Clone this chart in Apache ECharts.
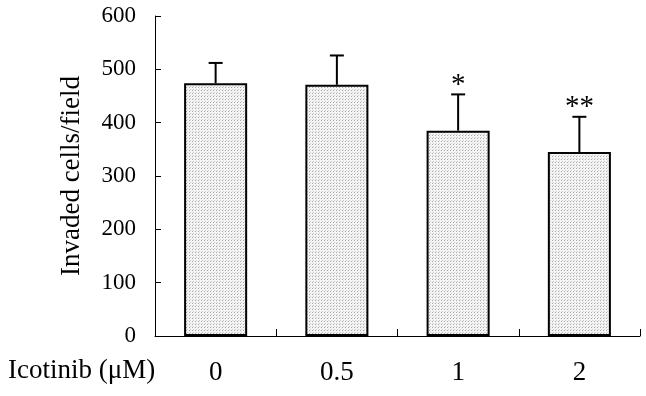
<!DOCTYPE html>
<html>
<head>
<meta charset="utf-8">
<script src="https://cdn.jsdelivr.net/npm/echarts@6/dist/echarts.min.js"></script>
<style>
  html, body { margin: 0; padding: 0; background: #fff; }
  #chart { width: 646px; height: 396px; }
</style>
</head>
<body>
<div id="chart"></div>
<script>
const categories = ['0', '0.5', '1', '2'];
const means = [474, 471, 385, 345];
const errors = [38, 55, 68, 66];
const marks = ['', '', '*', '**'];
const yTicks = [0, 100, 200, 300, 400, 500, 600];

const chartDom = document.getElementById('chart');
const myChart = echarts.init(chartDom);

// dotted fill for the bars
const dots = document.createElement('canvas');
dots.width = 3;
dots.height = 3;
const dctx = dots.getContext('2d');
dctx.fillStyle = '#f4f4f4';
dctx.fillRect(0, 0, 3, 3);
dctx.fillStyle = '#a8a8a8';
dctx.fillRect(0, 0, 1, 1);
dctx.fillStyle = '#d0d0d0';
dctx.fillRect(1, 2, 1, 1);

const font = '"Liberation Serif", "DejaVu Serif", serif';

const option = {
    animation: false,
    grid: { left: 155, right: 6, top: 16, bottom: 60 },
    xAxis: {
        type: 'category',
        data: categories,
        axisLine: { lineStyle: { color: '#000', width: 1 } },
        axisTick: { show: true, inside: true, length: 7, lineStyle: { color: '#000' } },
        axisLabel: { color: '#000', fontFamily: font, fontSize: 27, margin: 23 },
        z: 5
    },
    yAxis: {
        type: 'value',
        min: yTicks[0],
        max: yTicks[yTicks.length - 1],
        interval: 100,
        name: 'Invaded cells/field',
        nameLocation: 'middle',
        nameGap: 70,
        nameTextStyle: { color: '#000', fontFamily: font, fontSize: 27 },
        axisLine: { show: true, lineStyle: { color: '#000', width: 1 } },
        axisTick: { show: true, inside: true, length: 6, lineStyle: { color: '#000' } },
        splitLine: { show: false },
        axisLabel: { color: '#000', fontFamily: font, fontSize: 23, margin: 19 }
    },
    graphic: [{
        type: 'text',
        left: 8,
        top: 357,
        style: { text: 'Icotinib (\u03bcM)', fill: '#000', font: '27px ' + font }
    }],
    series: [
        {
            type: 'bar',
            data: means,
            barWidth: '52%',
            itemStyle: {
                color: { image: dots, repeat: 'repeat' },
                borderColor: '#000',
                borderWidth: 2
            },
            z: 2
        },
        {
            type: 'custom',
            data: means.map((m, i) => [i, m, m + errors[i]]),
            renderItem: function (params, api) {
                const lo = api.coord([api.value(0), api.value(1)]);
                const hi = api.coord([api.value(0), api.value(2)]);
                const cap = 7;
                const children = [
                    { type: 'line', shape: { x1: lo[0], y1: lo[1], x2: hi[0], y2: hi[1] },
                      style: { stroke: '#000', lineWidth: 2 } },
                    { type: 'line', shape: { x1: hi[0] - cap, y1: hi[1], x2: hi[0] + cap, y2: hi[1] },
                      style: { stroke: '#000', lineWidth: 2 } }
                ];
                const mark = marks[params.dataIndex];
                if (mark) {
                    children.push({
                        type: 'text',
                        x: hi[0],
                        y: hi[1] + 5,
                        style: { text: mark, fill: '#000', font: '29px ' + font,
                                 align: 'center', verticalAlign: 'bottom' }
                    });
                }
                return { type: 'group', children: children };
            },
            z: 3
        }
    ]
};

myChart.setOption(option);
</script>
</body>
</html>
